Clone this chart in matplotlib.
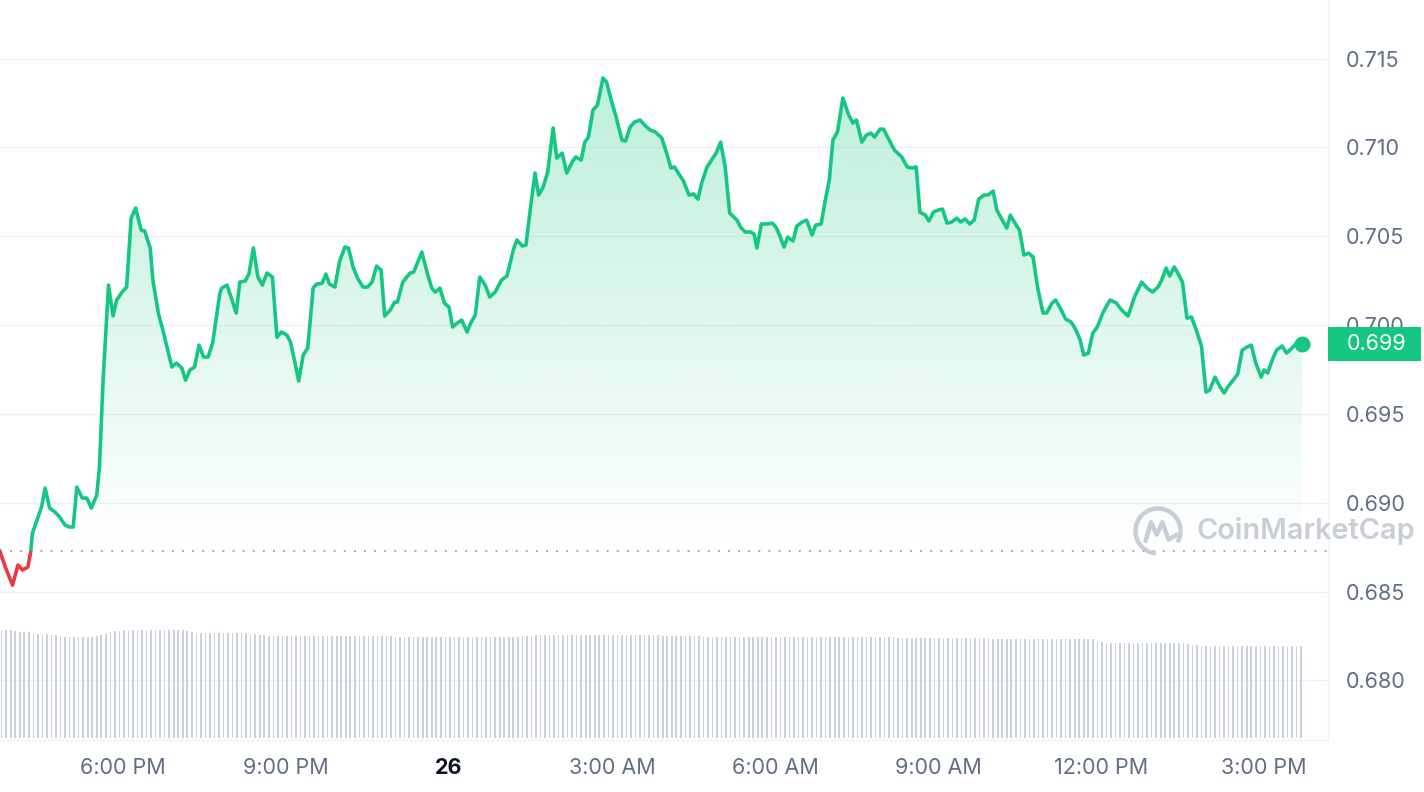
import matplotlib
matplotlib.use("Agg")
import matplotlib.pyplot as plt
import numpy as np
from matplotlib.patches import Rectangle, Arc
from matplotlib.transforms import blended_transform_factory

# price samples: minutes after 15:44 on the 25th, and price in USD
minutes = [
    0, 6, 14, 20, 25, 31, 34, 36, 46, 50,
    55, 61, 66, 72, 77, 81, 85, 91, 96, 101,
    107, 110, 114, 120, 125, 129, 135, 140, 145, 150,
    156, 160, 166, 169, 175, 180, 190, 195, 201, 205,
    210, 215, 220, 225, 230, 235, 243, 245, 251, 261,
    265, 271, 275, 280, 285, 290, 295, 301, 306, 311,
    317, 321, 326, 330, 335, 340, 346, 350, 356, 360,
    364, 370, 375, 381, 385, 390, 395, 401, 406, 411,
    416, 421, 425, 431, 436, 439, 445, 453, 457, 466,
    472, 477, 481, 486, 491, 496, 500, 505, 510, 516,
    520, 525, 530, 536, 541, 547, 554, 560, 567, 571,
    577, 581, 585, 591, 595, 600, 605, 611, 615, 621,
    626, 632, 636, 642, 646, 650, 655, 660, 666, 670,
    676, 680, 687, 691, 696, 701, 707, 712, 718, 724,
    731, 737, 741, 745, 750, 755, 761, 766, 771, 775,
    781, 786, 791, 796, 801, 806, 814, 818, 823, 829,
    833, 836, 841, 847, 853, 857, 861, 866, 870, 876,
    880, 886, 891, 897, 901, 907, 911, 916, 920, 925,
    931, 937, 942, 946, 952, 957, 962, 966, 972, 976,
    982, 988, 996, 1002, 1007, 1012, 1016, 1022, 1026, 1031,
    1036, 1041, 1046, 1051, 1057, 1061, 1066, 1071, 1076, 1081,
    1087, 1091, 1097, 1101, 1107, 1112, 1116, 1121, 1126, 1131,
    1136, 1141, 1146, 1152, 1156, 1162, 1166, 1171, 1177, 1183,
    1188, 1193, 1197, 1202, 1207, 1212, 1218, 1226, 1233, 1239,
    1246, 1253, 1261, 1267, 1273, 1279, 1283, 1288, 1292, 1297,
    1302, 1306, 1311, 1316, 1322, 1327, 1332, 1336, 1342, 1347,
    1352, 1356, 1362, 1367, 1372, 1377, 1382, 1387, 1393, 1396,
    1400, 1406, 1410, 1416, 1421, 1427, 1432, 1438,
]
prices = [
    .68728, .68638, .68536, .68649, .68621, .68638, .68722, .68829, .68975, .69082,
    .68970, .68947, .68919, .68874, .68863, .68863, .69088, .69026, .69026, .68970,
    .69043, .69201, .69690, .70225, .70051, .70141, .70186, .70214, .70602, .70659,
    .70535, .70529, .70434, .70253, .70068, .69972, .69764, .69786, .69758, .69690,
    .69747, .69764, .69887, .69820, .69820, .69899, .70180, .70208, .70225, .70068,
    .70242, .70248, .70287, .70434, .70270, .70225, .70293, .70270, .69932, .69961,
    .69944, .69904, .69786, .69685, .69831, .69871, .70208, .70231, .70236, .70287,
    .70231, .70214, .70355, .70439, .70434, .70327, .70265, .70214, .70214, .70242,
    .70332, .70310, .70051, .70084, .70129, .70129, .70242, .70293, .70298, .70411,
    .70293, .70208, .70186, .70208, .70124, .70101, .69989, .70011, .70028, .69961,
    .70011, .70056, .70270, .70225, .70158, .70186, .70253, .70276, .70422, .70479,
    .70445, .70450, .70619, .70856, .70732, .70777, .70861, .71109, .70940, .70968,
    .70856, .70918, .70946, .70929, .71030, .71058, .71210, .71239, .71391, .71368,
    .71250, .71182, .71042, .71036, .71115, .71143, .71154, .71126, .71098, .71087,
    .71053, .70957, .70884, .70890, .70850, .70811, .70732, .70738, .70709, .70799,
    .70890, .70929, .70968, .71030, .70890, .70631, .70591, .70552, .70524, .70524,
    .70512, .70434, .70569, .70569, .70574, .70552, .70507, .70439, .70495, .70473,
    .70557, .70580, .70591, .70507, .70563, .70569, .70687, .70816, .71042, .71087,
    .71278, .71188, .71137, .71154, .71030, .71070, .71081, .71058, .71103, .71103,
    .71042, .70985, .70946, .70890, .70884, .70890, .70636, .70619, .70586, .70636,
    .70647, .70653, .70574, .70580, .70602, .70580, .70597, .70569, .70591, .70709,
    .70732, .70732, .70754, .70647, .70591, .70546, .70619, .70574, .70535, .70394,
    .70405, .70383, .70214, .70068, .70068, .70124, .70141, .70096, .70034, .70017,
    .69977, .69916, .69831, .69842, .69955, .69989, .70068, .70141, .70124, .70084,
    .70051, .70158, .70242, .70208, .70186, .70214, .70253, .70321, .70276, .70327,
    .70282, .70242, .70039, .70045, .69961, .69882, .69623, .69634, .69707, .69657,
    .69617, .69651, .69690, .69724, .69859, .69876, .69887, .69786, .69707, .69747,
    .69730, .69814, .69859, .69882, .69842, .69871, .69899, .69893,
]

# 5-minute volume bars (relative units), first bar at 15:46
volume = [
    108, 108, 108, 107, 106.5, 106.5, 106, 104.5, 104, 104, 104, 103.5, 103, 102, 101.5, 101.5, 101.5, 101.5, 101.5, 101.5, 101.5, 102, 103, 104,
    106, 107, 107.5, 108, 108.5, 108.5, 108.5, 108.5, 108.5, 108.5, 108.5, 108.5, 108.5, 108.5, 108.5, 108.5, 108, 107, 106, 105.5, 105, 105, 105, 105,
    105, 105, 105, 105, 105, 105, 105, 104.5, 104, 103.5, 103, 102.5, 102.5, 102.5, 102.5, 102.5, 102.5, 102.5, 102.5, 102.5, 102.5, 102.5, 102.5, 102.5,
    102.5, 102.5, 102.5, 102.5, 102.5, 102.5, 102.5, 102.5, 102.5, 102.5, 102.5, 102.5, 102, 102, 102, 101.5, 101.5, 101.5, 101.5, 101.5, 101.5, 101.5, 101.5, 101.5,
    101.5, 101.5, 101.5, 101.5, 101.5, 101.5, 101.5, 101.5, 101.5, 101.5, 101.5, 101.5, 101.5, 101.5, 101.5, 101.5, 101.5, 101.5, 101.5, 102, 102, 102.5, 103, 103,
    103, 103, 103, 103.5, 103.5, 103.5, 103.5, 103.5, 103.5, 103.5, 103, 103, 103, 103, 103, 103, 103, 103, 103, 103, 103, 103, 103, 103,
    103, 103, 102.5, 102.5, 102.5, 102.5, 102.5, 102, 102, 102, 102, 101.5, 101.5, 101.5, 101.5, 101.5, 101.5, 101.5, 101.5, 101.5, 101.5, 101.5, 101.5, 101.5,
    101.5, 101.5, 101.5, 101.5, 101.5, 101.5, 101.5, 101.5, 101.5, 101.5, 101.5, 101.5, 101.5, 101.5, 101.5, 101.5, 101.5, 101.5, 101.5, 101.5, 101, 101, 101, 101,
    101, 101, 101, 101, 101, 101, 100.5, 100.5, 100.5, 100.5, 100.5, 100.5, 100.5, 100.5, 100.5, 100.5, 100, 100, 100, 100, 100, 100, 100, 100,
    100, 100, 100, 99.5, 99.5, 99.5, 99.5, 99.5, 99.5, 99.5, 99.5, 99.5, 99.5, 99.5, 99.5, 99.5, 99.5, 99.5, 99.5, 99.5, 99.5, 99.5, 99.5, 99.5,
    99.5, 99.5, 97, 96, 95.5, 95.5, 95.5, 95.5, 95.5, 95.5, 95.5, 95.5, 95.5, 95.5, 95.5, 95.5, 95.5, 95.5, 95.5, 95.5, 95.5, 95.5, 94, 93,
    93, 92.5, 92.5, 92.5, 92, 92, 92, 92, 92, 92, 92.5, 92.5, 92.5, 92.5, 92.5, 92.5, 92.5, 92.5, 92.5, 92.5, 92.5, 92.5, 92.5, 92.5,
]

y_ticks = [0.680, 0.685, 0.690, 0.695, 0.700, 0.705, 0.710, 0.715]
x_ticks = [18, 21, 24, 27, 30, 33, 36, 39]   # hours from midnight of the 25th
x_labels = ["6:00 PM", "9:00 PM", "26", "3:00 AM", "6:00 AM", "9:00 AM", "12:00 PM", "3:00 PM"]

GREEN = "#16c784"
RED = "#ea3943"
GRID = "#eff2f5"
LABEL = "#616e85"

plt.rcParams['font.family'] = ['Inter', 'DejaVu Sans']

hours = 15 + 44 / 60 + np.array(minutes) / 60.0
prices = np.array(prices)
base = prices[0]
vol_hours = 15 + 46 / 60 + np.arange(len(volume)) * 5 / 60.0

XLIM = (15.736, 40.179)
YLIM = (0.67664, 0.71830)

fig = plt.figure(figsize=(14.24, 7.92), dpi=100)
ax = fig.add_axes([0, 52 / 792, 1328 / 1424, 740 / 792])

for t in y_ticks:
    ax.axhline(t, color=GRID, lw=1, zorder=0)

# gradient fill under the line, above the open price
upper = np.maximum(prices, base)
poly = ax.fill_between(hours, upper, base, color="none", lw=0)
grad = np.zeros((256, 1, 4))
grad[..., 0], grad[..., 1], grad[..., 2] = 22 / 255, 199 / 255, 132 / 255
grad[:, 0, 3] = np.linspace(0.29, 0.0, 256)
im = ax.imshow(grad, extent=[hours[0], hours[-1], base, 0.7145], aspect="auto",
               origin="upper", zorder=1, interpolation="bilinear")
im.set_clip_path(poly.get_paths()[0], ax.transData)

# open-price reference
ax.axhline(base, color="#a3acbb", lw=1.4, dashes=(1, 4.2), zorder=3)

# price line, green above the open, red below
g_line, = ax.plot(hours, prices, color=GREEN, lw=2.6, solid_joinstyle="round", zorder=4)
r_line, = ax.plot(hours, prices, color=RED, lw=2.6, solid_joinstyle="round", zorder=4)
w = XLIM[1] - XLIM[0]
g_line.set_clip_path(Rectangle((XLIM[0], base), w, YLIM[1] - base, transform=ax.transData))
r_line.set_clip_path(Rectangle((XLIM[0], YLIM[0] - 1), w, base - YLIM[0] + 1, transform=ax.transData))
ax.plot(hours[-1], prices[-1], "o", ms=10.5, color=GREEN, zorder=5, clip_on=False)

ax.set_xlim(*XLIM)
ax.set_ylim(*YLIM)

ax.yaxis.tick_right()
ax.set_yticks(y_ticks)
ax.set_yticklabels([f"{v:.3f}" for v in y_ticks])
ax.tick_params(axis="y", length=0, pad=13, labelsize=15.5, labelcolor=LABEL)
ax.set_xticks(x_ticks)
ax.set_xticklabels(x_labels)
ax.tick_params(axis="x", length=0, pad=13, labelsize=15.5, labelcolor=LABEL)
for lbl in ax.get_xticklabels():
    if lbl.get_text() == "26":
        lbl.set_fontweight("bold")
        lbl.set_color("#0d1421")

for s in ["top", "left"]:
    ax.spines[s].set_visible(False)
for s in ["right", "bottom"]:
    ax.spines[s].set_color(GRID)
    ax.spines[s].set_linewidth(1)

# current price tag (covers most of the 0.700 tick label, as in the original)
trans = blended_transform_factory(ax.transAxes, ax.transData)
half = 17 * (YLIM[1] - YLIM[0]) / 740
tag = Rectangle((1.0, prices[-1] - half), 93 / 1328, 2 * half, transform=trans,
                fc=GREEN, ec="none", clip_on=False, zorder=6)
ax.add_patch(tag)
ax.text(1.0 + 19 / 1328, prices[-1], f"{prices[-1]:.3f}", transform=trans, color="white",
        fontsize=15.5, ha="left", va="center", zorder=7, clip_on=False)

# volume bars
vax = fig.add_axes(ax.get_position())
vax.set_axis_off()
vax.patch.set_alpha(0)
vax.bar(vol_hours, volume, width=0.03, color="#cad1dc", lw=0)
vax.set_xlim(*XLIM)
vax.set_ylim(-2, 738)

# watermark
WM = "#c8cdd6"
fig.text(1197 / 1424, 1 - 531 / 792, "CoinMarketCap", fontsize=20.8, color=WM,
         ha="left", va="center", fontweight="semibold")
lax = fig.add_axes([1133 / 1424, 1 - 556 / 792, 50 / 1424, 50 / 792])
lax.set_xlim(-1, 1)
lax.set_ylim(-1, 1)
lax.set_axis_off()
lax.add_patch(Arc((0, 0), 1.8, 1.8, theta1=-30, theta2=265, lw=3.2, color=WM))
lax.plot([-0.5, -0.28, -0.05, 0.18, 0.42, 0.75], [-0.4, 0.35, -0.15, 0.35, -0.35, -0.15],
         color=WM, lw=3.2, solid_joinstyle="round", solid_capstyle="round")

fig.savefig("out.png", dpi=100, facecolor="white")
